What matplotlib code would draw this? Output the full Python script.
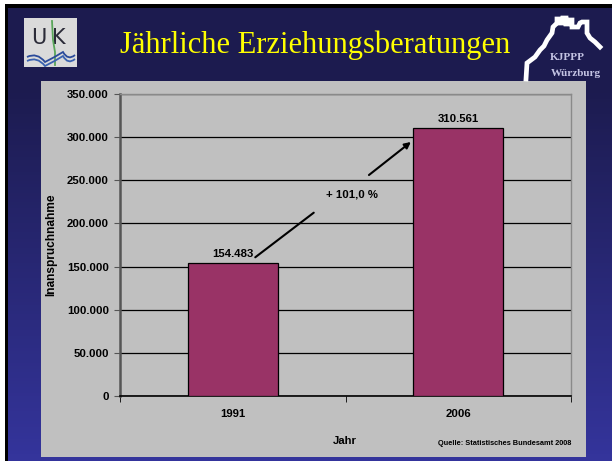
import matplotlib
matplotlib.use("Agg")
import matplotlib.pyplot as plt
import numpy as np
from matplotlib.patches import Rectangle
from matplotlib.path import Path as MPath
from matplotlib.patches import PathPatch


years = ["1991", "2006"]
counts = [154483, 310561]
change_label = "+ 101,0 %"
y_ticks = [0, 50000, 100000, 150000, 200000, 250000, 300000, 350000]

title = "Jährliche Erziehungsberatungen"
y_label = "Inanspruchnahme"
x_label = "Jahr"
source = "Quelle: Statistisches Bundesamt 2008"

BAR_COLOR = "#993366"
PANEL = "#c0c0c0"
W, H = 612, 461


def de_num(v):
    return f"{v:,.0f}".replace(",", ".")


fig = plt.figure(figsize=(W / 100, H / 100), dpi=100)
fig.patch.set_facecolor("white")

# slide background in pixel coordinates
bg = fig.add_axes([0, 0, 1, 1])
bg.axis("off")
bg.set_xlim(0, W)
bg.set_ylim(H, 0)

bg.add_patch(Rectangle((5, 4), W + 10, H + 10, facecolor="black", edgecolor="none", zorder=0))
top = np.array([0x1c, 0x1b, 0x4f]) / 255
bottom = np.array([0x34, 0x34, 0x9c]) / 255
edges = np.linspace(8, H + 2, 151)
for y0, y1 in zip(edges[:-1], edges[1:]):
    f = np.clip(((y0 - 8) / (H - 8) - 0.18) / 0.82, 0, 1)
    bg.add_patch(Rectangle((8, y0), W, y1 - y0 + 0.6, facecolor=top * (1 - f) + bottom * f,
                           edgecolor="none", zorder=1))

# chart panel
bg.add_patch(Rectangle((41, 81), 545, 376, facecolor=PANEL, edgecolor="none", zorder=2))

# title
bg.text(315, 45, title, color="#ffff00", fontsize=22, family="Liberation Serif",
        ha="center", va="center", zorder=3)

# left logo
bg.add_patch(Rectangle((24, 18), 53, 49, facecolor="#dadada", edgecolor="none", zorder=3))
bg.text(39, 38, "U", fontsize=15, color="#2b2b38", family="Liberation Sans Narrow",
        ha="center", va="center", zorder=4)
bg.text(59, 38, "K", fontsize=15, color="#2b2b38", family="Liberation Sans Narrow",
        ha="center", va="center", zorder=4)
bg.plot([52, 53, 55, 55], [21, 40, 52, 65], color="#5aa65a", lw=1.3, zorder=4)
for dy, c in [(0, "#2a4a9a"), (4, "#3a62b0")]:
    verts = [(27, 57 + dy), (37, 52 + dy), (45, 62 + dy), (55, 57 + dy),
             (63, 52 + dy), (68, 61 + dy), (75, 55 + dy)]
    codes = [MPath.MOVETO] + [MPath.CURVE3] * 6
    bg.add_patch(PathPatch(MPath(verts, codes), facecolor="none", edgecolor=c,
                           lw=1.3, zorder=4))

# right logo: castle outline
cx = [526, 527, 531, 535, 540, 544, 547, 552, 553, 557, 557, 560, 560, 563, 563, 566,
      566, 569, 569, 572, 572, 578, 580, 582, 587, 587, 590, 595, 600]
cy = [79, 63, 60, 57, 50, 46, 40, 33, 27, 23, 19, 19, 23, 23, 18, 18, 24, 24, 20, 20,
      27, 27, 23, 22, 22, 33, 38, 42, 47]
bg.plot(cx, cy, color="white", lw=3.4, solid_joinstyle="miter", zorder=4)
bg.text(567, 57, "KJPPP", fontsize=8, color="#c4c4e4", family="Liberation Serif",
        fontweight="bold", ha="center", va="center", zorder=4)
bg.text(576, 73, "Würzburg", fontsize=8, color="#c4c4e4", family="Liberation Serif",
        fontweight="bold", ha="center", va="center", zorder=4)

# chart
ax = fig.add_axes([120 / W, (H - 396) / H, (571 - 120) / W, (396 - 94) / H])
ax.set_facecolor(PANEL)
x = np.arange(len(years))
ax.bar(x, counts, width=0.4, color=BAR_COLOR, edgecolor="black", linewidth=0.9, zorder=3)
ax.set_xlim(-0.5, len(years) - 0.5)
ax.set_ylim(0, y_ticks[-1])
ax.set_yticks(y_ticks)
ax.set_yticklabels([de_num(v) for v in y_ticks])
ax.grid(axis="y", color="black", linewidth=0.9, zorder=1)
ax.set_xticks(x)
ax.set_xticklabels(years)
ax.set_xticks(np.arange(len(years) + 1) - 0.5, minor=True)
ax.tick_params(axis="x", which="major", length=0, pad=9)
ax.tick_params(axis="x", which="minor", length=4, direction="out", color="black")
ax.tick_params(axis="y", length=4, direction="out", color="#555555", pad=4)
for lab in ax.get_xticklabels() + ax.get_yticklabels():
    lab.set_fontweight("bold")
    lab.set_fontsize(8.2)
    lab.set_family("Liberation Sans")

ax.spines["left"].set_color("#555555")
ax.spines["left"].set_linewidth(1.8)
ax.spines["bottom"].set_color("black")
ax.spines["bottom"].set_linewidth(1.2)
for s in ("top", "right"):
    ax.spines[s].set_color("#8a8a8a")
    ax.spines[s].set_linewidth(1.0)

ax.set_ylabel(y_label, fontsize=8.6, fontweight="bold", family="Liberation Sans")
ax.yaxis.set_label_coords(-0.14, 0.5)
ax.set_xlabel(x_label, fontsize=8.2, fontweight="bold", family="Liberation Sans")
ax.xaxis.set_label_coords(0.499, -0.132)

for xi, v in zip(x, counts):
    ax.annotate(de_num(v), (xi, v), xytext=(0, 3), textcoords="offset points",
                ha="center", va="bottom", fontsize=8.2, fontweight="bold",
                family="Liberation Sans", zorder=5)

# growth arrow, split around its label
ax.annotate("", xy=(0.369, 214400), xytext=(0.09, 158800),
            arrowprops=dict(arrowstyle="-", color="black", lw=1.5), zorder=5)
ax.annotate("", xy=(0.79, 294400), xytext=(0.604, 256100),
            arrowprops=dict(arrowstyle="-|>", color="black", lw=1.5,
                            mutation_scale=9, shrinkA=0, shrinkB=0), zorder=5)
ax.text(0.529, 234100, change_label, ha="center", va="center", fontsize=8.2,
        fontweight="bold", family="Liberation Sans", zorder=5)

ax.text(1.0, -0.158, source, transform=ax.transAxes, ha="right", va="center",
        fontsize=5.3, fontweight="bold", family="Liberation Sans")

fig.savefig("out.png", dpi=100, facecolor=fig.get_facecolor())
